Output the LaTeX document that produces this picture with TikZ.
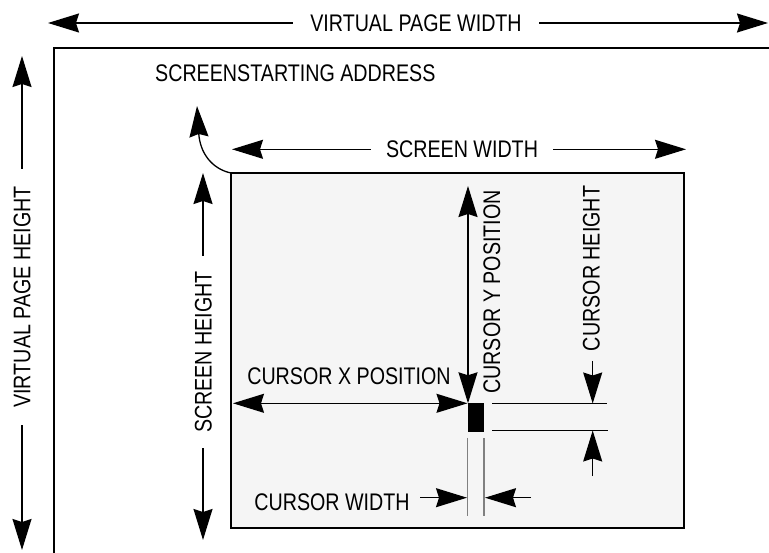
\documentclass[tikz,border=0pt]{standalone}
\usepackage{fontspec}
\setmainfont{Liberation Sans}[FakeStretch=0.82]
\usetikzlibrary{arrows.meta}
\begin{document}
\begin{tikzpicture}[x=1pt,y=-1pt,
  >={Stealth[length=31pt,width=19pt,inset=3pt]},
  lbl/.style={font=\fontsize{24}{28}\selectfont, inner sep=0pt, anchor=base},
  gap/.style={fill=white, inner xsep=17pt},
  arr/.style={->, line width=1.3pt},
  dbl/.style={<->, line width=1.3pt},
  frame/.style={line width=1.5pt},
  ext/.style={line width=1.2pt},
  extgray/.style={line width=1.5pt, draw=gray}
]
\definecolor{screenfill}{HTML}{F5F5F5}
\useasboundingbox (0,0) rectangle (769,553);

% virtual page frame
\coordinate (pgTR) at (775,48);
\coordinate (pgTL) at (54,48);
\coordinate (pgBL) at (54,560);
\draw[frame] (pgTR) -- (pgTL) -- (pgBL);

% virtual page width
\coordinate (vpwL) at (48,23);
\coordinate (vpwR) at (768,23);
\draw[dbl] (vpwL) -- (vpwR);
\node[lbl, gap] (vpw) at (416,31.5) {VIRTUAL PAGE WIDTH};

% virtual page height
\coordinate (vphT) at (22,56);
\coordinate (vphB) at (22,550);
\draw[dbl] (vphT) -- (vphB);
\node[lbl, gap, rotate=90] (vph) at (30.5,297) {VIRTUAL PAGE HEIGHT};

% screen starting address
\node[lbl, anchor=base west] (ssa) at (155,81.5) {SCREENSTARTING ADDRESS};

% screen
\coordinate (scrTL) at (231,173);
\coordinate (scrBR) at (684,528);
\draw[frame, fill=screenfill] (scrTL) rectangle (scrBR);

% curved arrow to starting address
\coordinate (ssaTip) at (197,106);
\draw[arr] (scrTL) .. controls (212,169) and (200,153) .. (ssaTip);

% screen width
\coordinate (swL) at (232,149.3);
\coordinate (swR) at (686,149.3);
\draw[dbl] (swL) -- (swR);
\node[lbl, gap, inner xsep=15pt] (sw) at (462,157.8) {SCREEN WIDTH};

% screen height
\coordinate (shT) at (203,173);
\coordinate (shB) at (203,540);
\draw[dbl] (shT) -- (shB);
\node[lbl, gap, inner xsep=15pt, rotate=90] (sh) at (211.5,352) {SCREEN HEIGHT};

% cursor
\coordinate (curTL) at (467.5,403.3);
\coordinate (curBR) at (484.3,431.8);
\fill (curTL) rectangle (curBR);

% cursor y position
\coordinate (cyT) at (468,186);
\coordinate (cyB) at (468,403.3);
\draw[dbl] (cyT) -- (cyB);
\node[lbl, rotate=90] (cy) at (500,292) {CURSOR Y POSITION};

% cursor x position
\coordinate (cxL) at (233,403.3);
\coordinate (cxR) at (467.5,403.3);
\draw[dbl] (cxL) -- (cxR);
\node[lbl] (cx) at (349,385) {CURSOR X POSITION};

% cursor height extension lines
\coordinate (e1L) at (492,403.5);
\coordinate (e1R) at (607,403.5);
\coordinate (e2L) at (492,430.5);
\coordinate (e2R) at (608,430.5);
\draw[ext] (e1L) -- (e1R);
\draw[ext] (e2L) -- (e2R);

% cursor height
\node[lbl, rotate=90] (ch) at (599.5,268.5) {CURSOR HEIGHT};
\coordinate (chTop) at (592.7,361);
\coordinate (chTipT) at (592.7,403.5);
\coordinate (chBot) at (592.7,476);
\coordinate (chTipB) at (592.7,430.5);
\draw[arr] (chTop) -- (chTipT);
\draw[arr] (chBot) -- (chTipB);

% cursor width extension lines
\coordinate (w1T) at (467.7,438);
\coordinate (w1B) at (467.7,516);
\coordinate (w2T) at (484,438);
\coordinate (w2B) at (484,516);
\draw[extgray] (w1T) -- (w1B);
\draw[extgray] (w2T) -- (w2B);

% cursor width
\node[lbl] (cw) at (332,510) {CURSOR WIDTH};
\coordinate (cwA) at (420,497.7);
\coordinate (cwAtip) at (467,497.7);
\coordinate (cwB) at (531,497.7);
\coordinate (cwBtip) at (485,497.7);
\draw[arr] (cwA) -- (cwAtip);
\draw[arr] (cwB) -- (cwBtip);
\end{tikzpicture}
\end{document}
